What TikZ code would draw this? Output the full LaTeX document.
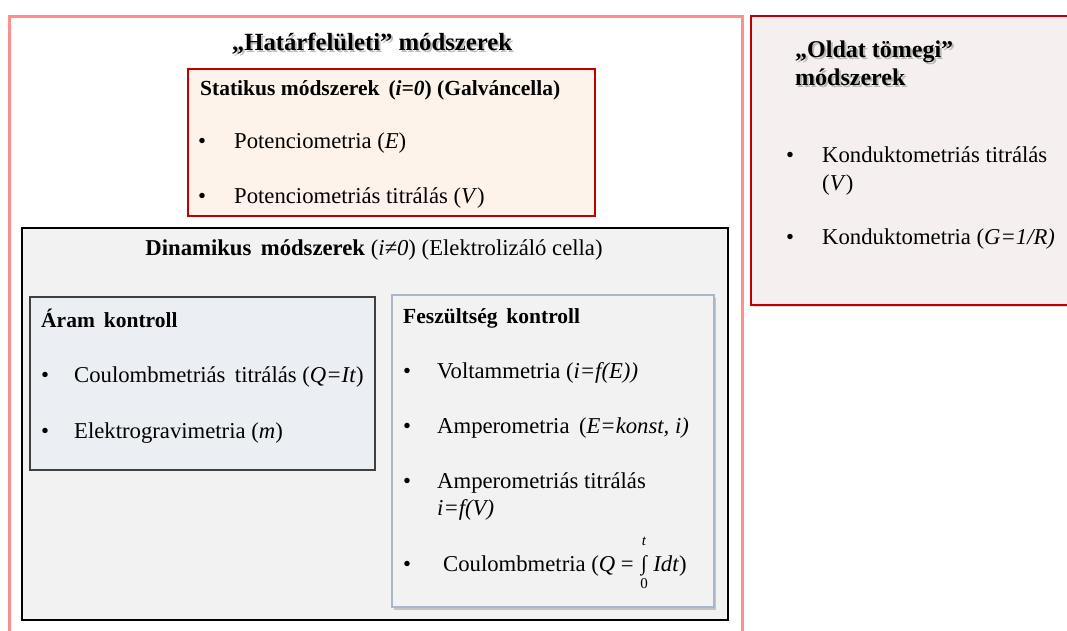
\documentclass[tikz,border=0pt]{standalone}
\usepackage{fontspec}
\setmainfont{Liberation Serif}
\usetikzlibrary{shadows}
\definecolor{pinkline}{HTML}{FF8F8F}
\definecolor{darkred}{HTML}{C00000}
\definecolor{oldatfill}{HTML}{F5EFEF}
\definecolor{statfill}{HTML}{FDF3EA}
\definecolor{dinfill}{HTML}{F2F2F2}
\definecolor{aramfill}{HTML}{EBEEF2}
\definecolor{aramline}{HTML}{404040}
\definecolor{feszline}{HTML}{A8B8CA}
\newcommand{\bodyfont}{\fontsize{22.7}{27}\selectfont}
\newcommand{\headfont}{\fontsize{21.5}{25}\selectfont\bfseries}
\begin{document}
\begin{tikzpicture}[x=1pt,y=-1pt,
  txt/.style={anchor=base west,inner sep=0pt,font=\bodyfont},
  head/.style={anchor=base west,inner sep=0pt,font=\headfont},
  bul/.style={anchor=base west,inner sep=0pt,font=\bodyfont},
  txtshadow/.style={text=black!45,opacity=.55},
  outerbox/.style={draw=pinkline,line width=3pt,fill=white},
  redbox/.style={draw=darkred,line width=2.6pt},
  dinbox/.style={draw=black,line width=2.8pt,fill=dinfill},
  arambox/.style={draw=aramline,line width=1.4pt,fill=aramfill},
  feszbox/.style={draw=feszline,line width=1.4pt,fill=dinfill,
     drop shadow={shadow xshift=2pt,shadow yshift=-3pt,fill=black!35,opacity=.6}},
]
\useasboundingbox (0,0) rectangle (1067,630);
\clip (0,0) rectangle (1067,630);
\fill[white] (0,0) rectangle (1067,630);
% boxes
\draw[outerbox] (9,16) rectangle (742,660);
\draw[redbox,fill=oldatfill,drop shadow={shadow xshift=2pt,shadow yshift=-2pt,fill=black!30,opacity=.5}] (751,16) rectangle (1075,305);
\draw[redbox,fill=statfill] (188,69) rectangle (595,216);
\draw[dinbox] (22,228) rectangle (728,620);
\draw[arambox] (30,297) rectangle (375,470);
\draw[feszbox] (392,295) rectangle (714,607);
% title
\node[anchor=base,inner sep=0pt,font=\fontsize{24.7}{29}\selectfont\bfseries,txtshadow] (titlesh) at (374,52) {„Határfelületi” módszerek};
\node[anchor=base,inner sep=0pt,font=\fontsize{24.7}{29}\selectfont\bfseries] (title) at (372,50) {„Határfelületi” módszerek};
% static
\node[head] (stat) at (200,95) {Statikus módszerek\, (\textit{i=0}) (Galváncella)};
\node[bul] (sb1) at (198,148) {•};
\node[txt] (s1) at (234,148) {Potenciometria (\textit{E})};
\node[bul] (sb2) at (198,203) {•};
\node[txt] (s2) at (234,203) {Potenciometriás titrálás (\textit{V})};
% oldat
\node[anchor=base west,inner sep=0pt,font=\fontsize{24}{28}\selectfont\bfseries,txtshadow] (old1sh) at (797,59) {„Oldat tömegi”};
\node[anchor=base west,inner sep=0pt,font=\fontsize{24}{28}\selectfont\bfseries,txtshadow] (old2sh) at (797,87) {módszerek};
\node[anchor=base west,inner sep=0pt,font=\fontsize{24}{28}\selectfont\bfseries] (old1) at (795,57) {„Oldat tömegi”};
\node[anchor=base west,inner sep=0pt,font=\fontsize{24}{28}\selectfont\bfseries] (old2) at (795,85) {módszerek};
\node[bul] (ob1) at (786,162) {•};
\node[txt] (o1) at (822,162) {Konduktometriás titrálás};
\node[txt] (o1b) at (822,190) {(\textit{V})};
\node[bul] (ob2) at (786,244) {•};
\node[txt] (o2) at (822,244) {Konduktometria (\textit{G=1/R)}};
% dinamikus
\node[anchor=base,inner sep=0pt,font=\bodyfont] (din) at (374,255) {\textbf{Dinamikus\, módszerek} (\textit{i≠0}) (Elektrolizáló cella)};
% aram
\node[head] (aram) at (41,327) {Áram\, kontroll};
\node[bul] (ab1) at (41,382) {•};
\node[txt] (a1) at (74,382) {Coulombmetriás\, titrálás (\textit{Q=It})};
\node[bul] (ab2) at (41,438) {•};
\node[txt] (a2) at (74,438) {Elektrogravimetria (\textit{m})};
% feszultseg
\node[head] (fesz) at (403,323) {Feszültség\, kontroll};
\node[bul] (fb1) at (403,378) {•};
\node[txt] (f1) at (437,378) {Voltammetria (\textit{i=f(E))}};
\node[bul] (fb2) at (403,433) {•};
\node[txt] (f2) at (437,433) {Amperometria\, (\textit{E=konst, i)}};
\node[bul] (fb3) at (403,488) {•};
\node[txt] (f3) at (437,488) {Amperometriás titrálás};
\node[txt] (f3b) at (437,515) {\textit{i=f(V)}};
\node[bul] (fb4) at (403,571) {•};
\node[txt] (f4) at (443,571) {Coulombmetria (\textit{Q} = };
\node[anchor=base west,inner sep=0pt,font=\fontsize{21}{23}\selectfont] (int) at ([xshift=7pt,yshift=1pt]f4.base east) {∫};
\node[anchor=base,inner sep=0pt,font=\fontsize{15}{17}\selectfont\itshape] (intt) at ([yshift=25pt]int.base) {t};
\node[anchor=base,inner sep=0pt,font=\fontsize{15}{17}\selectfont] (int0) at ([yshift=-18pt]int.base) {0};
\node[txt] (f4b) at ([xshift=6pt,yshift=-1pt]int.base east) {\textit{Idt})};
\end{tikzpicture}
\end{document}
